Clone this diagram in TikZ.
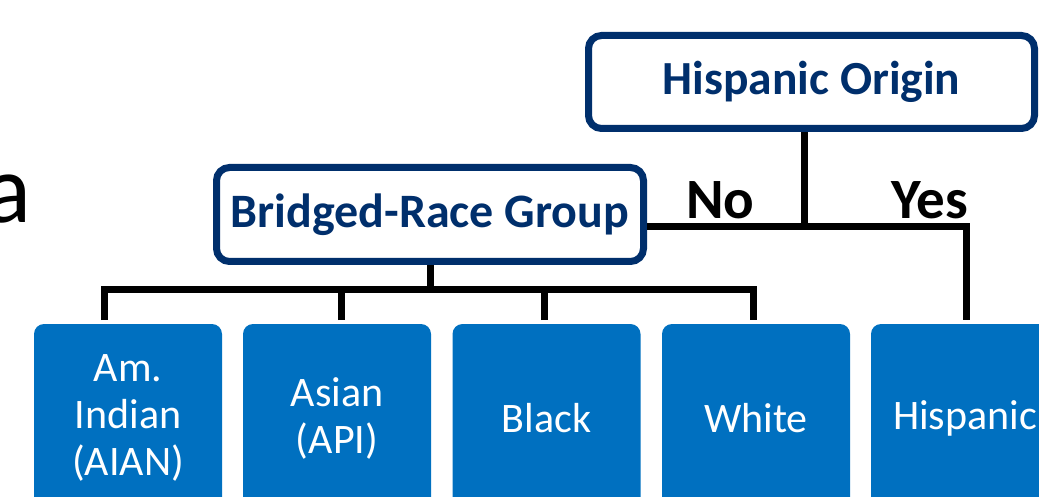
\documentclass[tikz,border=0pt]{standalone}
\usepackage{fontspec}
\setmainfont{Carlito}
\usetikzlibrary{calc}
\definecolor{navy}{HTML}{002F6C}
\definecolor{tileblue}{HTML}{0070C0}
\begin{document}
\begin{tikzpicture}[x=1pt,y=-1pt,
  hdr/.style={draw=navy, line width=7pt, rounded corners=13pt, fill=white, inner sep=0pt, text=navy},
  tile/.style={fill=tileblue, rounded corners=10pt, minimum width=188pt, minimum height=188pt, inner sep=0pt, outer sep=0pt, text=white, align=center, font=\fontsize{42}{47}\selectfont},
  conn/.style={draw=black, line width=7pt, line join=miter},
  lbl/.style={anchor=base, inner sep=0pt, font=\bfseries\fontsize{57}{62}\selectfont}]
\useasboundingbox (0,0) rectangle (1039,497);
\clip (0,0) rectangle (1039,497);
% header boxes
\node[hdr, minimum width=446pt, minimum height=93pt, font=\bfseries\fontsize{47.5}{56}\selectfont] (ho) at (811.5,82) {Hispanic Origin};
\node[hdr, minimum width=427pt, minimum height=94pt, font=\bfseries\fontsize{48}{56}\selectfont] (br) at (430,214.5) {Bridged-Race Group};
% tiles
\node[tile] (am) at (128,418) {Am.\\Indian\\(AIAN)};
\node[tile] (asian) at (337,418) {Asian\\(API)};
\node[tile] (black) at (546.5,418) {Black};
\node[tile] (white) at (756,418) {White};
\node[tile] (hisp) at (965,418) {Hispanic};
% labels
\node[lbl] (no) at (720.5,219) {No};
\node[lbl] (yes) at (929.5,219) {Yes};
% fragment of slide text
\node[anchor=base east, inner sep=0pt, font=\fontsize{98}{110}\selectfont] (a) at (32,223) {a};
% connectors
\draw[conn] ($(ho.south)+(-7.5,0)$) -- ++(0,98);
\draw[conn] ($(br.east)+(0,12)$) -| ($(hisp.north)+(1,-4)$);
\draw[conn] (br.south) -- ++(0,24.5);
\draw[conn] ($(am.north)+(-23.5,-4)$) |- ($(white.north)+(-3,-34.5)$) -- ($(white.north)+(-3,-4)$);
\draw[conn] ($(asian.north)+(4,-4)$) -- ++(0,-30.5);
\draw[conn] ($(black.north)+(-2.5,-4)$) -- ++(0,-30.5);
\end{tikzpicture}
\end{document}
